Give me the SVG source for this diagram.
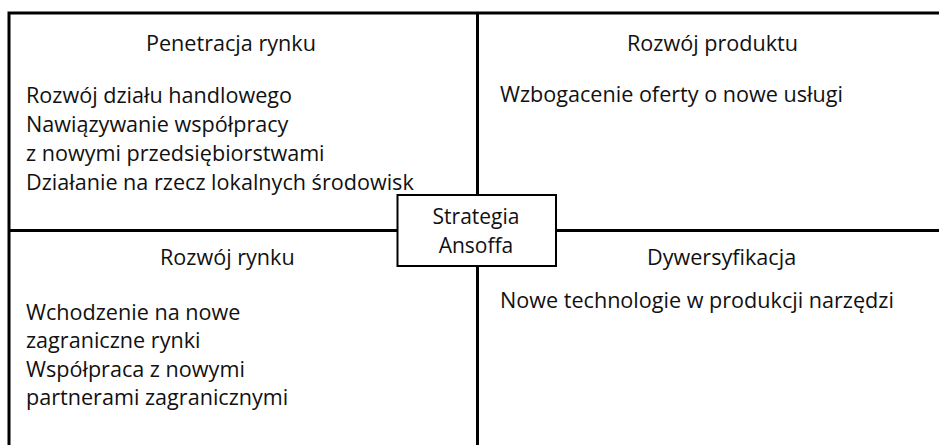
<svg xmlns="http://www.w3.org/2000/svg" width="939" height="445" viewBox="0 0 939 445">
  <style>
    .frame { fill: none; stroke: #000; stroke-width: 3; }
    .box { fill: #fff; stroke: #000; stroke-width: 2; }
    text { font-family: "Open Sans", "Noto Sans", "Liberation Sans", sans-serif; font-size: 21.6px; fill: #111; }
    .mid { text-anchor: middle; font-size: 21px; }
  </style>

  <!-- Matrix frame and dividers -->
  <g id="connectors">
    <polyline class="frame" points="9,445 9,13 939,13"/>
    <line class="frame" x1="477.5" y1="13" x2="477.5" y2="445"/>
    <line class="frame" x1="9" y1="230.5" x2="939" y2="230.5"/>
  </g>

  <g id="penetracja">
    <text x="146" y="51">Penetracja rynku</text>
    <text x="26" y="103">Rozwój działu handlowego</text>
    <text x="26" y="132">Nawiązywanie współpracy</text>
    <text x="26" y="161">z nowymi przedsiębiorstwami</text>
    <text x="26" y="190">Działanie na rzecz lokalnych środowisk</text>
  </g>

  <g id="rozwoj-produktu">
    <text x="627" y="51">Rozwój produktu</text>
    <text x="500" y="102">Wzbogacenie oferty o nowe usługi</text>
  </g>

  <g id="rozwoj-rynku">
    <text x="160" y="265">Rozwój rynku</text>
    <text x="26" y="320">Wchodzenie na nowe</text>
    <text x="26" y="348">zagraniczne rynki</text>
    <text x="26" y="377">Współpraca z nowymi</text>
    <text x="26" y="405">partnerami zagranicznymi</text>
  </g>

  <g id="dywersyfikacja">
    <text x="647" y="265">Dywersyfikacja</text>
    <text x="500" y="308">Nowe technologie w produkcji narzędzi</text>
  </g>

  <g id="strategia">
    <rect class="box" x="397.5" y="195" width="158.5" height="71"/>
    <text class="mid" x="476" y="224">Strategia</text>
    <text class="mid" x="476" y="253">Ansoffa</text>
  </g>
</svg>
